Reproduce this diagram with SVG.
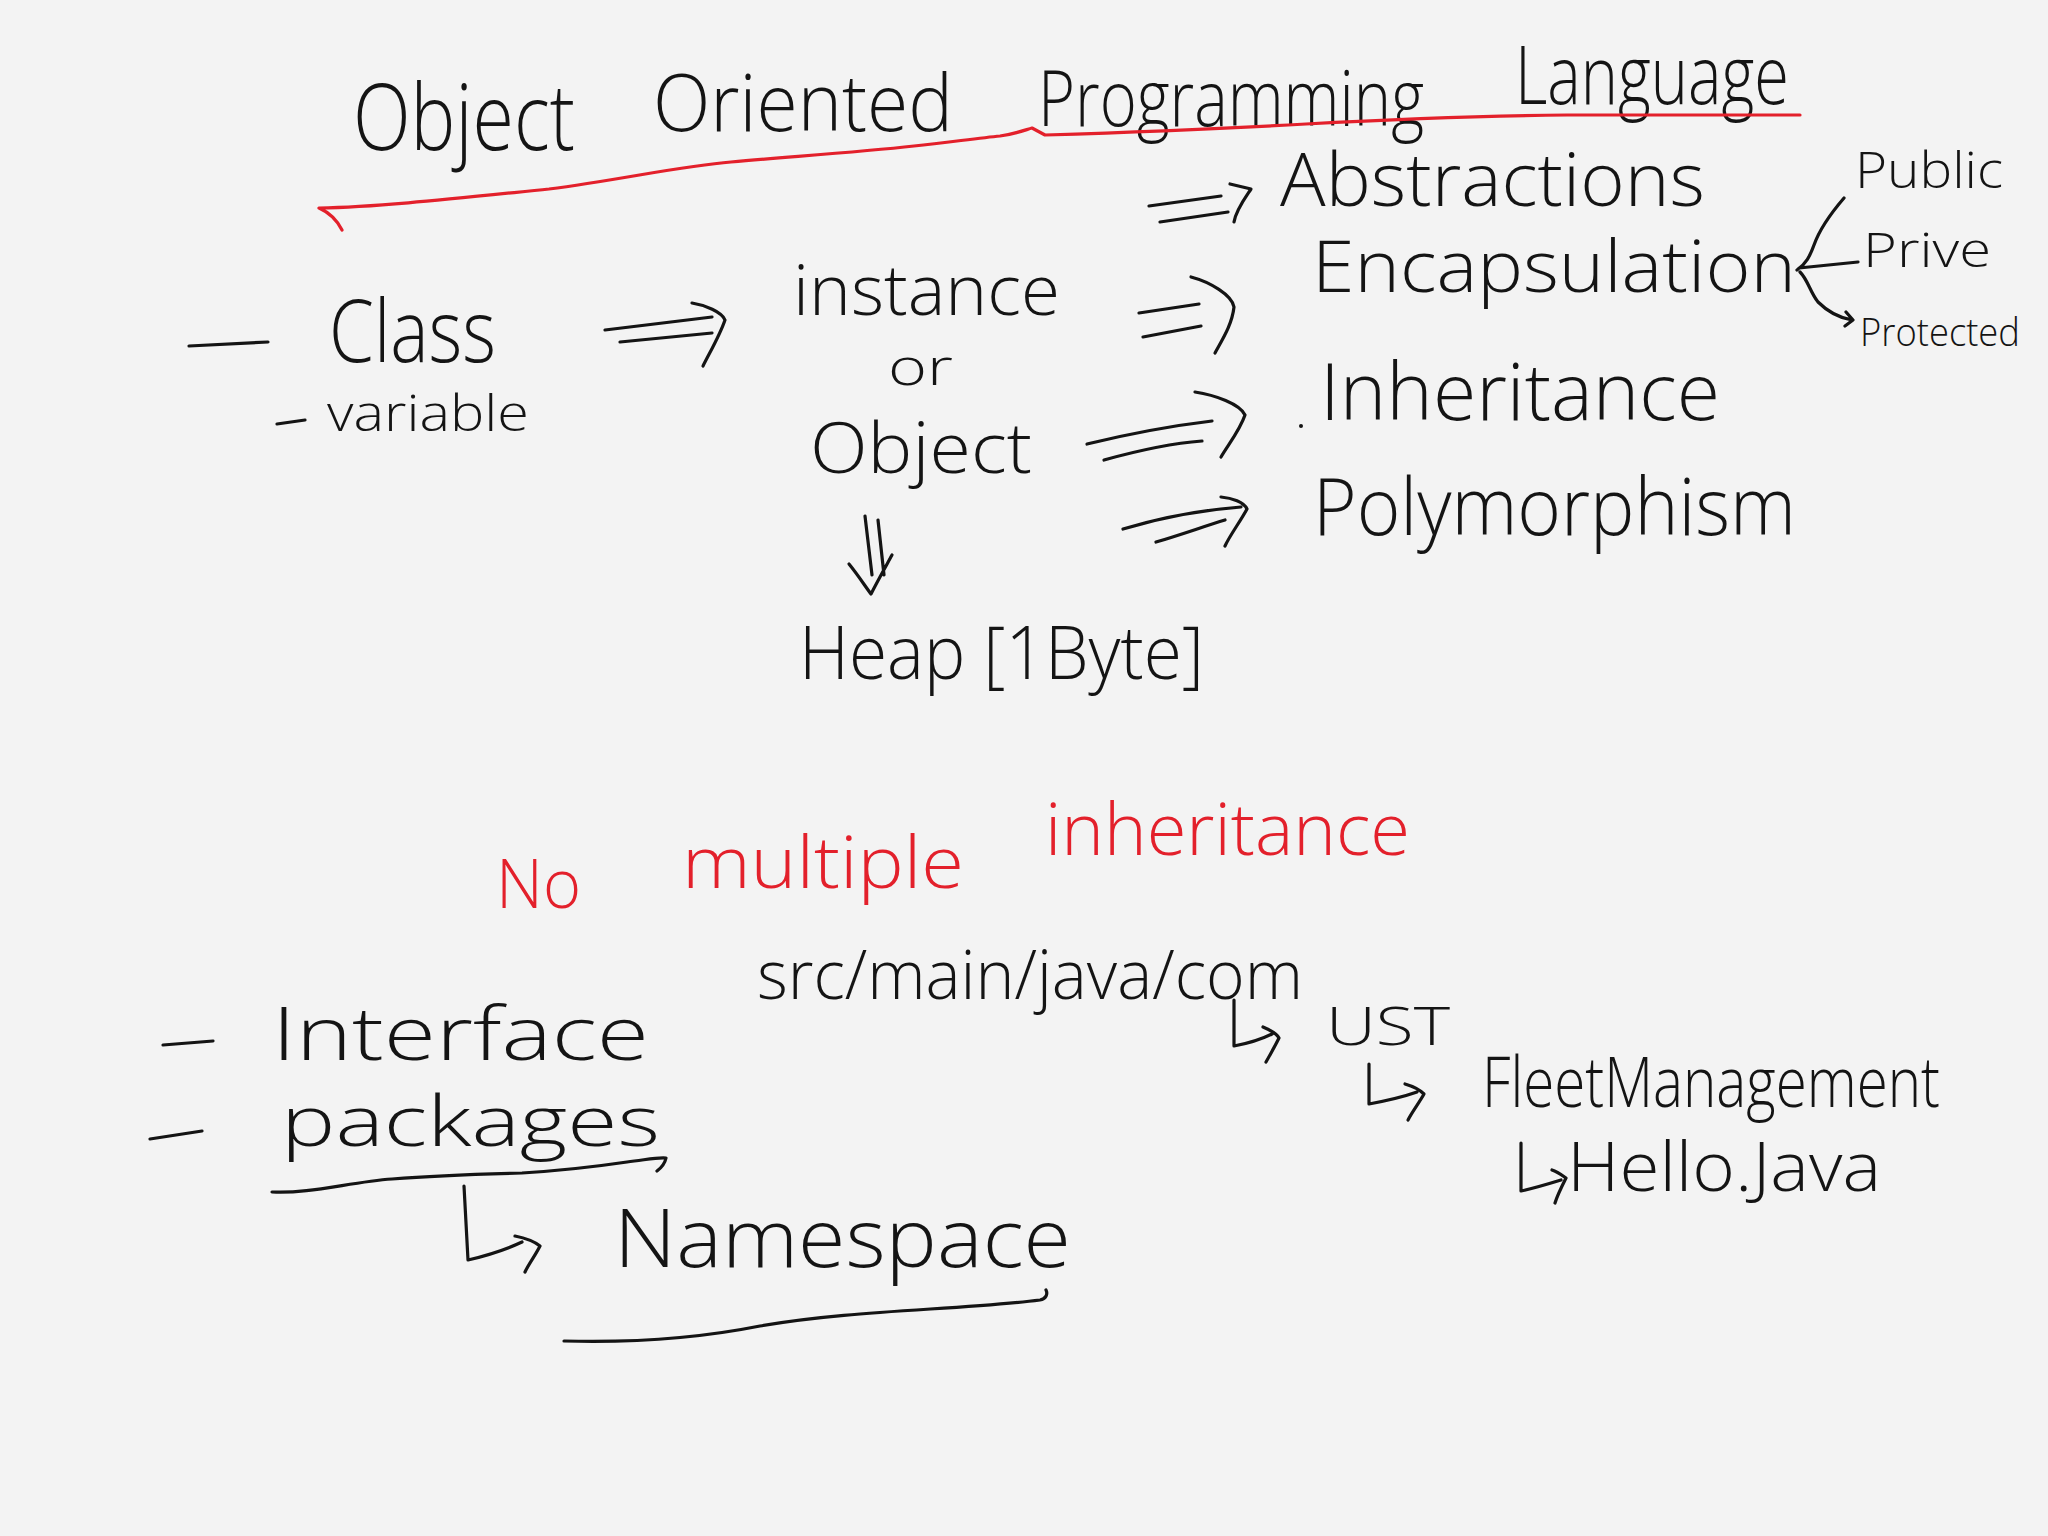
<svg xmlns="http://www.w3.org/2000/svg" width="2048" height="1536" viewBox="0 0 2048 1536">
<defs>
<style>
.t{font-family:"Open Sans","Liberation Sans",sans-serif;font-weight:300;fill:#141414}
.r{font-family:"Open Sans","Liberation Sans",sans-serif;font-weight:300;fill:#e3202b}
.k{fill:none;stroke:#141414;stroke-width:3.2;stroke-linecap:round;stroke-linejoin:round}
.rk{fill:none;stroke:#e3202b;stroke-width:3.2;stroke-linecap:round;stroke-linejoin:round}
</style>
</defs>
<rect width="2048" height="1536" fill="#f3f3f3"/>

<g id="title">
<text class="t" x="353" y="150" font-size="92" textLength="222" lengthAdjust="spacingAndGlyphs">Object</text>
<text class="t" x="653" y="131" font-size="80" textLength="300" lengthAdjust="spacingAndGlyphs">Oriented</text>
<text class="t" x="1038" y="126" font-size="78" textLength="386" lengthAdjust="spacingAndGlyphs">Programming</text>
<text class="t" x="1515" y="104" font-size="82" textLength="274" lengthAdjust="spacingAndGlyphs">Language</text>
<path class="rk" d="M342,230 C336,218 328,212 319,208 C380,207 460,198 549,189 C620,180 680,166 731,162 C800,156 860,152 914,146 C950,142 980,138 1000,136 C1015,134 1025,130 1032,128 L1045,135 C1110,133 1200,130 1306,124 C1400,119 1480,116 1567,115 C1680,115 1750,115 1800,115"/>
</g>

<g id="class">
<path class="k" d="M189,346 L268,342"/>
<text class="t" x="329" y="362" font-size="86" textLength="167" lengthAdjust="spacingAndGlyphs">Class</text>
</g>
<g id="variable">
<path class="k" d="M277,424 L305,420"/>
<text class="t" x="327" y="431" font-size="50" textLength="202" lengthAdjust="spacingAndGlyphs">variable</text>
</g>

<g id="instance">
<text class="t" x="793" y="315" font-size="70" textLength="267" lengthAdjust="spacingAndGlyphs">instance</text>
<text class="t" x="888" y="385" font-size="52" textLength="65" lengthAdjust="spacingAndGlyphs">or</text>
<text class="t" x="810" y="473" font-size="70" textLength="222" lengthAdjust="spacingAndGlyphs">Object</text>
</g>

<g id="heap">
<text class="t" x="799" y="679" font-size="74" textLength="405" lengthAdjust="spacingAndGlyphs">Heap [1Byte]</text>
</g>

<g id="abstractions">
<text class="t" x="1280" y="206" font-size="74" textLength="425" lengthAdjust="spacingAndGlyphs">Abstractions</text>
</g>
<g id="encapsulation">
<text class="t" x="1312" y="292" font-size="72" textLength="484" lengthAdjust="spacingAndGlyphs">Encapsulation</text>
</g>
<g id="public">
<text class="t" x="1855" y="188" font-size="50" textLength="148" lengthAdjust="spacingAndGlyphs">Public</text>
</g>
<g id="prive">
<text class="t" x="1863" y="267" font-size="48" textLength="128" lengthAdjust="spacingAndGlyphs">Prive</text>
</g>
<g id="protected">
<text class="t" x="1860" y="346" font-size="38" textLength="160" lengthAdjust="spacingAndGlyphs">Protected</text>
</g>
<g id="inheritance">
<circle cx="1301" cy="426" r="2" fill="#141414"/>
<text class="t" x="1320" y="420" font-size="80" textLength="400" lengthAdjust="spacingAndGlyphs">Inheritance</text>
</g>
<g id="polymorphism">
<text class="t" x="1313" y="535" font-size="80" textLength="483" lengthAdjust="spacingAndGlyphs">Polymorphism</text>
</g>

<g id="no-multiple-inheritance">
<text class="r" x="496" y="908" font-size="68" textLength="85" lengthAdjust="spacingAndGlyphs">No</text>
<text class="r" x="682" y="888" font-size="72" textLength="282" lengthAdjust="spacingAndGlyphs">multiple</text>
<text class="r" x="1045" y="855" font-size="72" textLength="365" lengthAdjust="spacingAndGlyphs">inheritance</text>
</g>

<g id="src-path">
<text class="t" x="757" y="999" font-size="68" textLength="546" lengthAdjust="spacingAndGlyphs">src/main/java/com</text>
</g>
<g id="ust">
<text class="t" x="1326" y="1045" font-size="54" textLength="124" lengthAdjust="spacingAndGlyphs">UST</text>
</g>
<g id="fleet">
<text class="t" x="1482" y="1107" font-size="70" textLength="458" lengthAdjust="spacingAndGlyphs">FleetManagement</text>
</g>
<g id="hello">
<text class="t" x="1567" y="1191" font-size="68" textLength="314" lengthAdjust="spacingAndGlyphs">Hello.Java</text>
</g>

<g id="interface">
<path class="k" d="M163,1045 L213,1041"/>
<text class="t" x="272" y="1060" font-size="74" textLength="377" lengthAdjust="spacingAndGlyphs">Interface</text>
</g>
<g id="packages">
<path class="k" d="M150,1139 L202,1131"/>
<text class="t" x="281" y="1146" font-size="70" textLength="379" lengthAdjust="spacingAndGlyphs">packages</text>
<path class="k" d="M272,1192 C310,1194 350,1182 392,1179 C440,1175 480,1174 522,1173 C570,1170 600,1166 627,1162 C645,1160 658,1157 666,1158 C665,1163 661,1168 657,1171"/>
</g>
<g id="namespace">
<text class="t" x="614" y="1267" font-size="82" textLength="457" lengthAdjust="spacingAndGlyphs">Namespace</text>
<path class="k" d="M564,1341 C640,1343 700,1338 760,1326 C850,1310 960,1310 1040,1300 C1046,1299 1048,1294 1046,1290"/>
</g>

<g id="connectors">
<!-- Class => instance -->
<path class="k" d="M605,330 L712,317 M620,342 L712,333 M692,303 C705,305 722,312 725,320 C720,335 710,352 703,366"/>
<!-- => Abstractions -->
<path class="k" d="M1149,206 L1221,196 M1160,222 L1228,212 M1230,184 L1251,189 C1245,198 1236,210 1234,222"/>
<!-- => Encapsulation (from instance) -->
<path class="k" d="M1139,313 L1199,304 M1143,337 L1201,326 M1191,277 C1210,282 1232,295 1234,307 C1232,325 1222,340 1215,353"/>
<!-- Object => Inheritance -->
<path class="k" d="M1087,444 C1120,436 1170,426 1212,421 M1104,460 C1140,450 1175,443 1202,441 M1195,392 C1215,395 1240,404 1245,415 C1240,430 1228,445 1221,457"/>
<!-- => Polymorphism -->
<path class="k" d="M1123,529 C1160,518 1200,510 1241,507 M1156,542 C1180,535 1205,526 1225,520 M1221,497 C1232,498 1244,502 1247,509 C1240,522 1230,535 1225,546"/>
<!-- Object => Heap (down) -->
<path class="k" d="M865,516 L872,575 M878,520 L884,575 M849,564 C858,575 865,586 871,594 C878,580 886,566 892,555"/>
<!-- brace to access modifiers -->
<path class="k" d="M1844,198 C1832,212 1820,228 1814,245 C1810,256 1806,264 1797,270 M1799,268 C1820,266 1840,264 1858,262 M1800,272 C1808,280 1810,292 1818,302 C1828,312 1840,318 1852,320 M1846,312 L1853,320 L1845,326"/>
<!-- src -> UST -->
<path class="k" d="M1234,1000 L1234,1046 C1245,1044 1260,1040 1272,1034 M1263,1027 C1270,1030 1277,1034 1279,1038 C1275,1046 1270,1055 1266,1062"/>
<!-- UST -> FleetManagement -->
<path class="k" d="M1369,1064 L1369,1104 C1385,1101 1400,1098 1417,1092 M1405,1084 C1412,1086 1420,1090 1424,1094 C1419,1103 1412,1112 1408,1120"/>
<!-- FleetManagement -> Hello.Java -->
<path class="k" d="M1521,1143 L1521,1191 C1535,1188 1548,1184 1561,1180 M1552,1170 C1558,1172 1563,1176 1566,1178 C1562,1186 1557,1196 1555,1203"/>
<!-- packages -> Namespace -->
<path class="k" d="M464,1186 L468,1260 C485,1256 505,1250 522,1242 M515,1236 C525,1238 535,1242 540,1246 C535,1256 528,1265 525,1272"/>
</g>
</svg>
